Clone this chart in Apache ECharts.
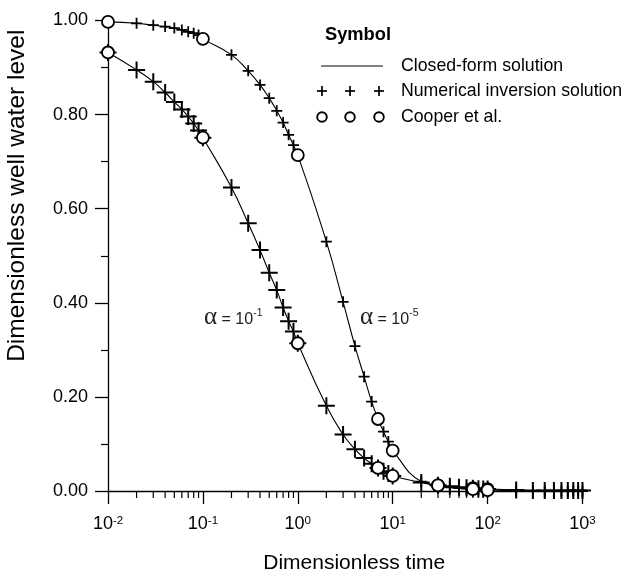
<!DOCTYPE html>
<html>
<head>
<meta charset="utf-8">
<script src="https://cdn.jsdelivr.net/npm/echarts@6/dist/echarts.min.js"></script>
<style>
  html, body { margin: 0; padding: 0; background: #fff; }
  #chart { width: 635px; height: 575px; }
</style>
</head>
<body>
<div id="chart"></div>
<script>
// Dimensionless time at which the numerical inversion was evaluated
const timeGrid = [
  0.01, 0.02, 0.03, 0.04, 0.05, 0.06, 0.07, 0.08, 0.09,
  0.1, 0.2, 0.3, 0.4, 0.5, 0.6, 0.7, 0.8, 0.9,
  1, 2, 3, 4, 5, 6, 7, 8, 9,
  10, 20, 30, 40, 50, 60, 70, 80, 90,
  100, 200, 300, 400, 500, 600, 700, 800, 900, 1000
];

// Dimensionless well water level, alpha = 1e-1
const levelAlpha1 = [
  0.932, 0.895, 0.870, 0.847, 0.827, 0.811, 0.796, 0.781, 0.766,
  0.751, 0.645, 0.569, 0.512, 0.464, 0.427, 0.390, 0.361, 0.339,
  0.314, 0.181, 0.120, 0.089, 0.070, 0.058, 0.049, 0.042, 0.037,
  0.032, 0.018, 0.012, 0.010, 0.008, 0.007, 0.006, 0.005, 0.004,
  0.004, 0.002, 0.001, 0.001, 0.001, 0.001, 0.001, 0.001, 0.001, 0.001
];

// Dimensionless well water level, alpha = 1e-5
const levelAlpha5 = [
  0.997, 0.994, 0.990, 0.987, 0.984, 0.980, 0.976, 0.973, 0.969,
  0.961, 0.927, 0.893, 0.863, 0.835, 0.808, 0.783, 0.757, 0.735,
  0.714, 0.530, 0.402, 0.308, 0.243, 0.190, 0.153, 0.126, 0.105,
  0.086, 0.020, 0.012, 0.008, 0.006, 0.005, 0.004, 0.003, 0.003,
  0.002, 0.001, 0.000, 0.000, 0.000, 0.000, 0.000, 0.000, 0.000, 0.000
];

// Cooper et al. reference values
const cooperTime = [0.01, 0.1, 1, 7, 10, 30, 70, 100];
const cooperAlpha1 = [0.932, 0.751, 0.314, 0.049, 0.032, 0.012, 0.006, 0.004];
const cooperAlpha5 = [0.997, 0.961, 0.714, 0.153, 0.086, 0.012, 0.004, 0.002];

// Minor tick positions on the log time axis
const xMinorTicks = [
  0.02, 0.03, 0.04, 0.05, 0.06, 0.07, 0.08, 0.09,
  0.2, 0.3, 0.4, 0.5, 0.6, 0.7, 0.8, 0.9,
  2, 3, 4, 5, 6, 7, 8, 9,
  20, 30, 40, 50, 60, 70, 80, 90,
  200, 300, 400, 500, 600, 700, 800, 900
];

const FONT = '"Liberation Sans", Arial, Helvetica, sans-serif';
const PLUS = 'path://M0,-10L0,10M-10,0L10,0';

const pairs = (xs, ys) => xs.map((x, i) => [x, ys[i]]);

const chart = echarts.init(document.getElementById('chart'), null, { renderer: 'canvas' });

const lineSeries = (name, ys) => ({
  name, type: 'line',
  data: pairs(timeGrid, ys),
  smooth: 0.5,
  showSymbol: false, symbol: 'none',
  lineStyle: { color: '#000', width: 1.1 },
  silent: true, z: 2
});

const plusSeries = (name, ys, size, width) => ({
  name, type: 'scatter',
  data: pairs(timeGrid, ys),
  symbol: PLUS, symbolSize: size,
  itemStyle: { color: 'none', borderColor: '#000', borderWidth: width, opacity: 1 },
  emphasis: { disabled: true },
  silent: true, z: 3
});

const circleSeries = (name, ys) => ({
  name, type: 'scatter',
  data: pairs(cooperTime, ys),
  symbol: 'circle', symbolSize: 12,
  itemStyle: { color: '#fff', borderColor: '#000', borderWidth: 1.8, opacity: 1 },
  emphasis: { disabled: true },
  silent: true, z: 4
});

chart.setOption({
  animation: false,
  backgroundColor: '#fff',
  textStyle: { fontFamily: FONT },
  grid: {
    left: 108, top: 20.5, width: 474.5, height: 470.5,
    containLabel: false, outerBoundsMode: 'none'
  },
  xAxis: {
    type: 'log', logBase: 10, min: 0.01, max: 1000,
    position: 'bottom',
    name: 'Dimensionless time',
    nameLocation: 'middle', nameGap: 62,
    nameTextStyle: { fontFamily: FONT, fontSize: 21, color: '#000', padding: [0, 0, 0, 18] },
    axisLine: { show: true, onZero: false, lineStyle: { color: '#000', width: 1.3 } },
    axisTick: { show: true, length: 13, lineStyle: { color: '#000', width: 1.3 } },
    axisLabel: {
      show: true, margin: 24,
      formatter: v => '{b|10}{s|' + Math.round(Math.log10(v)) + '}',
      rich: {
        b: { fontFamily: FONT, fontSize: 18, color: '#000', lineHeight: 22, verticalAlign: 'top' },
        s: { fontFamily: FONT, fontSize: 11.5, color: '#000', lineHeight: 12, verticalAlign: 'top' }
      }
    },
    splitLine: { show: false }
  },
  yAxis: {
    type: 'value', min: 0, max: 1, interval: 0.2,
    name: 'Dimensionless well water level',
    nameLocation: 'middle', nameGap: 78,
    nameTextStyle: { fontFamily: FONT, fontSize: 24.5, color: '#000', padding: [0, 0, 0, 120] },
    axisLine: { show: true, onZero: false, lineStyle: { color: '#000', width: 1.3 } },
    axisTick: { show: true, length: 13, lineStyle: { color: '#000', width: 1.3 } },
    minorTick: { show: true, splitNumber: 2, length: 7, lineStyle: { color: '#000', width: 1.2 } },
    axisLabel: {
      margin: 20, fontFamily: FONT, fontSize: 18, color: '#000',
      formatter: v => v.toFixed(2)
    },
    splitLine: { show: false }
  },
  series: [
    lineSeries('Closed-form solution α = 10^-1', levelAlpha1),
    lineSeries('Closed-form solution α = 10^-5', levelAlpha5),
    plusSeries('Numerical inversion solution α = 10^-5', levelAlpha5, 11, 1.8),
    plusSeries('Numerical inversion solution α = 10^-1', levelAlpha1, 17, 2),
    circleSeries('Cooper et al. α = 10^-1', cooperAlpha1),
    circleSeries('Cooper et al. α = 10^-5', cooperAlpha5)
  ]
});

// Minor ticks placed through the chart's own log scale
const minorTicks = xMinorTicks.map(t => {
  const p = chart.convertToPixel({ gridIndex: 0 }, [t, 0]);
  return {
    type: 'line', silent: true,
    shape: { x1: p[0], y1: p[1], x2: p[0], y2: p[1] + 7 },
    style: { stroke: '#000', lineWidth: 1.2 }
  };
});

const legendText = 401;

const legendPlus = cx => [
  { type: 'line', shape: { x1: cx, y1: 86, x2: cx, y2: 96 }, style: { stroke: '#000', lineWidth: 1.7 } },
  { type: 'line', shape: { x1: cx - 5, y1: 91, x2: cx + 5, y2: 91 }, style: { stroke: '#000', lineWidth: 1.7 } }
];
const legendCircle = cx => ({
  type: 'circle', shape: { cx, cy: 117, r: 4.8 },
  style: { stroke: '#000', lineWidth: 1.9, fill: '#fff' }
});

const alphaLabel = (x, exp) => ({
  type: 'text', x, y: 318,
  style: {
    text: '{a|α}{t| = 10}{s|' + exp + '}',
    verticalAlign: 'middle',
    rich: {
      a: { fontFamily: '"Liberation Serif", "DejaVu Serif", serif', fontSize: 25, fill: '#222', lineHeight: 24, verticalAlign: 'bottom' },
      t: { fontFamily: FONT, fontSize: 16, fill: '#222', lineHeight: 16, verticalAlign: 'bottom', padding: [0, 0, 2, 0] },
      s: { fontFamily: FONT, fontSize: 10.5, fill: '#222', lineHeight: 10, verticalAlign: 'bottom', padding: [0, 0, 11, 0] }
    }
  }
});

chart.setOption({
  graphic: [
    ...minorTicks,
    {
      type: 'text', x: 325, y: 35,
      style: { text: 'Symbol', fontFamily: FONT, fontWeight: 'bold', fontSize: 18.3, fill: '#000', verticalAlign: 'middle' }
    },
    {
      type: 'line', shape: { x1: 321, y1: 66, x2: 383, y2: 66 },
      style: { stroke: '#000', lineWidth: 1.2 }
    },
    {
      type: 'text', x: legendText, y: 66,
      style: { text: 'Closed-form solution', fontFamily: FONT, fontSize: 17.7, fill: '#000', verticalAlign: 'middle' }
    },
    ...legendPlus(322), ...legendPlus(350), ...legendPlus(379),
    {
      type: 'text', x: legendText, y: 91,
      style: { text: 'Numerical inversion solution', fontFamily: FONT, fontSize: 17.7, fill: '#000', verticalAlign: 'middle' }
    },
    legendCircle(322), legendCircle(350), legendCircle(379),
    {
      type: 'text', x: legendText, y: 117,
      style: { text: 'Cooper et al.', fontFamily: FONT, fontSize: 17.7, fill: '#000', verticalAlign: 'middle' }
    },
    alphaLabel(204, '-1'),
    alphaLabel(360, '-5')
  ]
});
</script>
</body>
</html>
